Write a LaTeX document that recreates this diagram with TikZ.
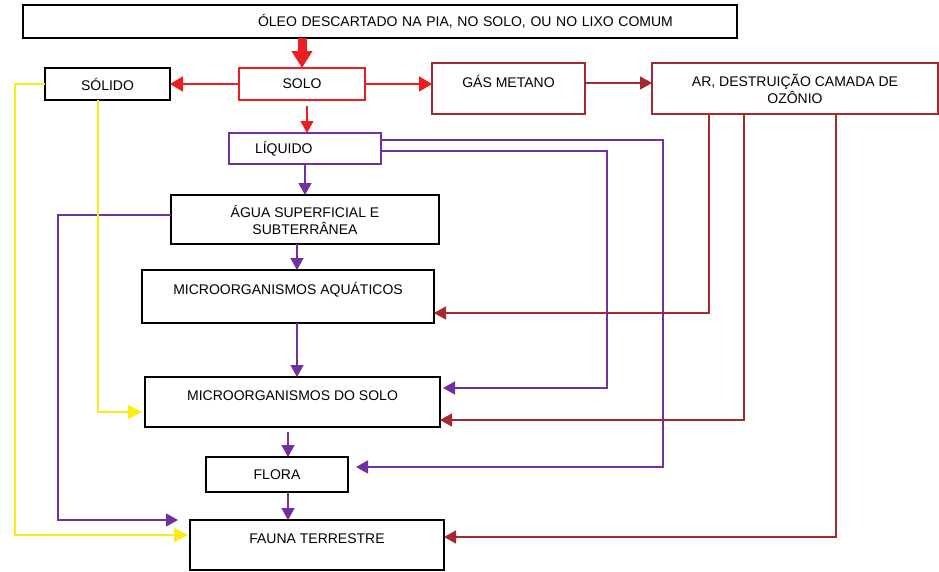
\documentclass[tikz,border=0pt]{standalone}
\usepackage{fontspec}
\setmainfont{Liberation Sans}
\usetikzlibrary{arrows.meta}

\tikzset{
  caixa/.style={draw, line width=1.7pt, inner sep=0pt, outer sep=0pt, align=center},
  liga/.style={line width=1.6pt, ->},
}

\begin{document}
\begin{tikzpicture}[x=1pt, y=-1pt, >={Triangle[width=13pt,length=12pt]}, font=\fontsize{14}{17}\selectfont]
  \definecolor{vermelho}{RGB}{235, 30, 36}
  \definecolor{vinho}{RGB}{165, 42, 48}
  \definecolor{roxo}{RGB}{112, 48, 160}
  \definecolor{amarelo}{RGB}{250, 236, 20}

  \useasboundingbox (0,0) rectangle (939,571);

  % 方框
  \node[caixa, text width=714pt, align=left, minimum height=33pt] (topo) at (380,21.5) {\hspace*{235pt}ÓLEO DESCARTADO NA PIA, NO SOLO, OU NO LIXO COMUM};
  \node[caixa, minimum width=125pt, minimum height=32pt] (solido) at (107.5,84) {SÓLIDO};
  \node[caixa, draw=vermelho, minimum width=126pt, minimum height=32pt] (solo) at (302,84) {SOLO};
  \node[caixa, draw=vinho, minimum width=153pt, text height=24pt, text depth=27pt] (gas) at (508.5,88.5) {GÁS METANO};
  \node[caixa, draw=vinho, minimum width=286pt, minimum height=51pt] (ar) at (795,88.5) {AR, DESTRUIÇÃO CAMADA DE\\ OZÔNIO};
  \node[caixa, draw=roxo, text width=152pt, align=left, minimum height=31pt] (liquido) at (305,148.5) {\hspace*{26pt}LÍQUIDO};
  \node[caixa, minimum width=268pt, minimum height=49pt] (agua) at (305,219.5) {ÁGUA SUPERFICIAL E\\ SUBTERRÂNEA};
  \node[caixa, minimum width=292pt, text height=24pt, text depth=29pt] (aquaticos) at (288,296.5) {MICROORGANISMOS AQUÁTICOS};
  \node[caixa, minimum width=295pt, text height=23pt, text depth=27pt] (msolo) at (292.5,402) {MICROORGANISMOS DO SOLO};
  \node[caixa, minimum width=142pt, minimum height=35pt] (flora) at (277,474.5) {FLORA};
  \node[caixa, minimum width=254pt, text height=23pt, text depth=27pt] (fauna) at (317,545) {FAUNA TERRESTRE};

  % 红色箭头
  \draw[vermelho, line width=9pt, -{Triangle[width=20pt,length=17pt]}] (topo.south -| solo.north) -- (solo.north);
  \draw[liga, vermelho, -{Triangle[width=15pt,length=13pt]}] (solo.west) -- (solido.east);
  \draw[liga, vermelho, -{Triangle[width=15pt,length=13pt]}] (solo.east) -- (solo.east -| gas.west);
  \draw[vermelho, line width=1.1pt, ->, shorten <=6pt] ([xshift=5pt]solo.south) -- ([xshift=5pt]solo.south |- liquido.north);
  \draw[liga, vinho] ([yshift=5.5pt]gas.east) -- ([yshift=5.5pt]gas.east -| ar.west);

  % 紫色箭头
  \draw[liga, roxo] (liquido.south) -- (agua.north);
  \draw[liga, roxo] ([xshift=-8pt]agua.south) -- ([xshift=-8pt]agua.south |- aquaticos.north);
  \draw[liga, roxo] ([xshift=9pt]aquaticos.south) -- ([xshift=9pt]aquaticos.south |- msolo.north);
  \draw[liga, roxo, shorten <=5pt] ([xshift=-4.5pt]msolo.south) -- ([xshift=-4.5pt]msolo.south |- flora.north);
  \draw[liga, roxo] ([xshift=11pt]flora.south) -- ([xshift=11pt]flora.south |- fauna.north);
  \draw[liga, roxo, shorten >=8pt] ([yshift=8.5pt]liquido.east) -| ([xshift=315pt,yshift=7.5pt]flora.east) -- ([yshift=7.5pt]flora.east);
  \draw[liga, roxo, shorten >=3pt] ([yshift=-2.5pt]liquido.east) -| ([xshift=167pt,yshift=14pt]msolo.east) -- ([yshift=14pt]msolo.east);
  \draw[liga, roxo, shorten >=12pt] ([yshift=4.5pt]agua.west) -| ([xshift=-132pt]fauna.north west) -- (fauna.north west);

  % 黄色箭头
  \draw[liga, amarelo, -{Triangle[width=14pt,length=14pt]}, shorten >=2pt] (solido.west) -| ([xshift=-175pt,yshift=10pt]fauna.west) -- ([yshift=10pt]fauna.west);
  \draw[liga, amarelo, -{Triangle[width=14pt,length=14pt]}, shorten >=3pt] ([xshift=-9.5pt]solido.south) |- ([yshift=-10pt]msolo.west);

  % 深红色箭头
  \draw[liga, vinho] ([xshift=57pt]ar.south west) |- ([yshift=-16.5pt]aquaticos.east);
  \draw[liga, vinho] ([xshift=92pt]ar.south west) |- ([yshift=-18pt]msolo.east);
  \draw[liga, vinho] ([xshift=184pt]ar.south west) |- ([yshift=8pt]fauna.east);
\end{tikzpicture}
\end{document}
